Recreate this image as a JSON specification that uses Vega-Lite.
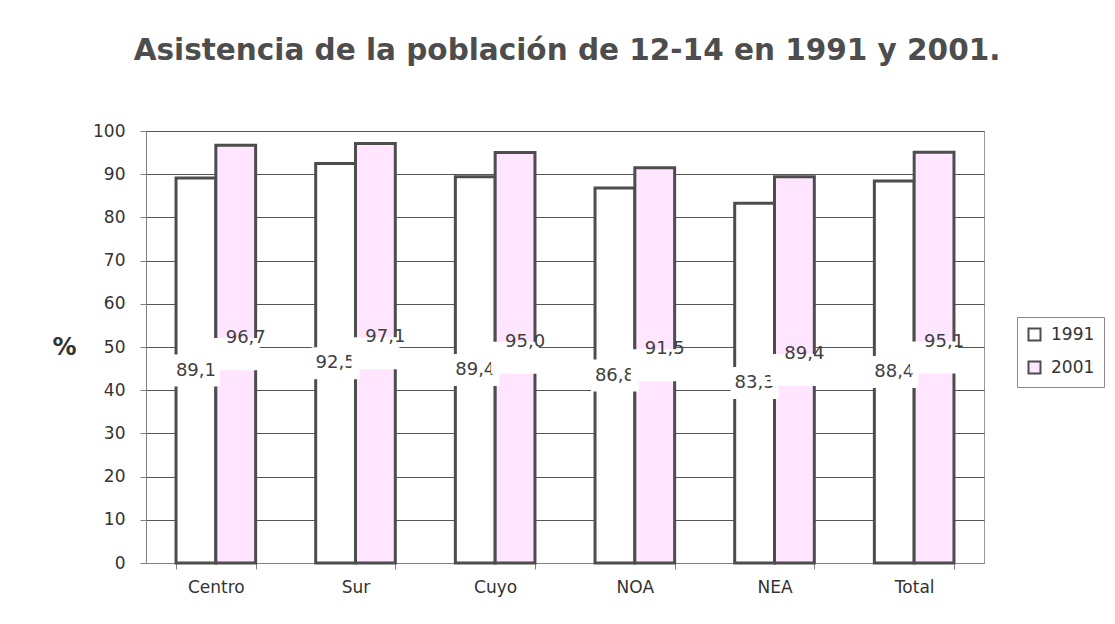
{
  "$schema": "https://vega.github.io/schema/vega-lite/v6.json",
  "width": 838,
  "height": 432,
  "autosize": {"type": "none"},
  "padding": {"left": 146, "top": 131, "right": 131, "bottom": 61},
  "background": "white",
  "title": {
    "text": "Asistencia de la población de 12-14 en 1991 y 2001.",
    "font": "DejaVu Sans",
    "fontSize": 29.5,
    "fontWeight": "bold",
    "color": "#4d4d4d",
    "anchor": "middle",
    "offset": 56,
    "dx": 2
  },
  "data": {
    "values": [
      {"region": "Centro", "year": "1991", "value": 89.1},
      {"region": "Centro", "year": "2001", "value": 96.7},
      {"region": "Sur", "year": "1991", "value": 92.5},
      {"region": "Sur", "year": "2001", "value": 97.1},
      {"region": "Cuyo", "year": "1991", "value": 89.4},
      {"region": "Cuyo", "year": "2001", "value": 95.0},
      {"region": "NOA", "year": "1991", "value": 86.8},
      {"region": "NOA", "year": "2001", "value": 91.5},
      {"region": "NEA", "year": "1991", "value": 83.3},
      {"region": "NEA", "year": "2001", "value": 89.4},
      {"region": "Total", "year": "1991", "value": 88.4},
      {"region": "Total", "year": "2001", "value": 95.1}
    ]
  },
  "encoding": {
    "x": {
      "field": "region",
      "type": "nominal",
      "sort": null,
      "scale": {"paddingInner": 0.43, "paddingOuter": 0.215},
      "axis": {
        "title": null,
        "labelAngle": 0,
        "tickBand": "extent",
        "tickSize": 6,
        "labelPadding": 10,
        "labelFontSize": 17,
        "labelColor": "#333333",
        "domainColor": "#808080",
        "tickColor": "#808080",
        "grid": false
      }
    },
    "xOffset": {"field": "year", "type": "nominal", "sort": ["1991", "2001"]}
  },
  "layer": [
    {
      "mark": {"type": "bar", "stroke": "#4d4d4d", "strokeWidth": 3},
      "encoding": {
        "y": {
          "field": "value",
          "type": "quantitative",
          "scale": {"domain": [0, 100], "nice": false},
          "axis": {
            "title": "%",
            "values": [0, 10, 20, 30, 40, 50, 60, 70, 80, 90, 100],
            "grid": true,
            "gridColor": "#555555",
            "gridWidth": 1,
            "tickSize": 6,
            "tickColor": "#808080",
            "domainColor": "#808080",
            "labelPadding": 15,
            "labelFontSize": 17,
            "labelColor": "#333333",
            "titleAngle": 0,
            "titleFontSize": 24,
            "titleFontWeight": "bold",
            "titleColor": "#333333",
            "titleX": -82,
            "titleY": 216,
            "titleAlign": "center",
            "titleBaseline": "middle"
          }
        },
        "color": {
          "field": "year",
          "type": "nominal",
          "scale": {"domain": ["1991", "2001"], "range": ["#ffffff", "#ffe5ff"]},
          "legend": {
            "title": null,
            "orient": "none",
            "legendX": 871,
            "legendY": 186,
            "strokeColor": "#888888",
            "padding": 9,
            "symbolType": "square",
            "symbolSize": 144,
            "symbolStrokeColor": "#4d4d4d",
            "symbolStrokeWidth": 2,
            "labelFontSize": 17,
            "labelColor": "#333333",
            "labelOffset": 8,
            "rowPadding": 12
          }
        }
      }
    },
    {
      "transform": [{"filter": "datum.year == '1991'"}],
      "mark": {"type": "point", "shape": "M-1,-0.667H1V0.667H-1Z", "filled": true, "fill": "white", "opacity": 1, "strokeWidth": 0, "size": 2304},
      "encoding": {
        "y": {"field": "value", "type": "quantitative", "scale": {"domain": [0, 200], "nice": false}, "axis": null}
      }
    },
    {
      "transform": [{"filter": "datum.year == '1991'"}],
      "mark": {"type": "text", "fontSize": 18, "color": "#404040", "baseline": "middle", "align": "center"},
      "encoding": {
        "y": {"field": "value", "type": "quantitative", "scale": {"domain": [0, 200], "nice": false}, "axis": null},
        "text": {"field": "value", "type": "quantitative", "format": ".1f"}
      }
    },
    {
      "transform": [{"filter": "datum.year == '2001'"}],
      "mark": {"type": "point", "shape": "M-1,-0.667H1V0.667H-1Z", "filled": true, "fill": "white", "opacity": 1, "strokeWidth": 0, "size": 2304, "dx": 10, "dy": -16},
      "encoding": {
        "y": {"field": "value", "type": "quantitative", "scale": {"domain": [0, 200], "nice": false}, "axis": null}
      }
    },
    {
      "transform": [{"filter": "datum.year == '2001'"}],
      "mark": {"type": "text", "fontSize": 18, "color": "#404040", "baseline": "middle", "align": "center", "dx": 10, "dy": -16},
      "encoding": {
        "y": {"field": "value", "type": "quantitative", "scale": {"domain": [0, 200], "nice": false}, "axis": null},
        "text": {"field": "value", "type": "quantitative", "format": ".1f"}
      }
    }
  ],
  "resolve": {"scale": {"y": "independent"}},
  "config": {
    "font": "DejaVu Sans",
    "locale": {"number": {"decimal": ",", "thousands": ".", "grouping": [3], "currency": ["$", ""]}},
    "view": {"stroke": "#999999", "strokeWidth": 1}
  }
}
